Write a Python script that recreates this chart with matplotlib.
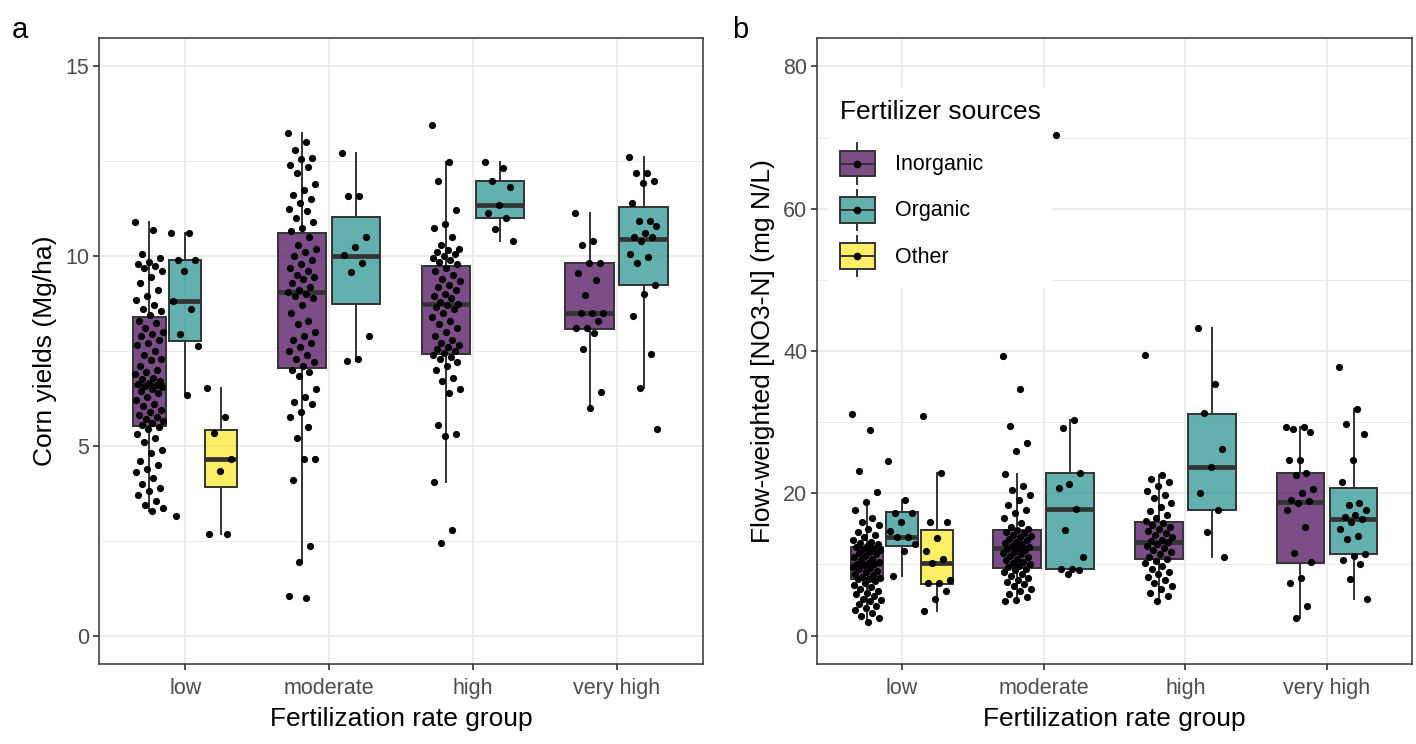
import numpy as np
import matplotlib
matplotlib.use("Agg")
import matplotlib.pyplot as plt
from matplotlib.legend_handler import HandlerBase
from matplotlib.lines import Line2D
from matplotlib.patches import Rectangle
from matplotlib.colors import to_rgba

plt.rcParams["font.family"] = ["Liberation Sans", "DejaVu Sans"]

categories = ["low", "moderate", "high", "very high"]
sources = ["Inorganic", "Organic", "Other"]
source_colours = ["#440154", "#21908C", "#FDE725"]

# --- panel a: corn yields (Mg/ha) ---------------------------------------
yield_low_inorganic = [
    10.9, 10.7, 10.05, 9.95, 9.85, 9.8, 9.75, 9.7, 9.6, 9.45, 9.3, 9.1, 8.95,
    8.85, 8.7, 8.6, 8.55, 8.45, 8.3, 8.25, 8.1, 8.0, 7.95, 7.9, 7.8, 7.7, 7.65,
    7.5, 7.4, 7.3, 7.25, 7.1, 7.0, 6.95, 6.9, 6.8, 6.75, 6.7, 6.65, 6.62, 6.6,
    6.58, 6.55, 6.5, 6.45, 6.4, 6.3, 6.2, 6.1, 6.05, 5.95, 5.9, 5.8, 5.75, 5.7,
    5.65, 5.6, 5.55, 5.5, 5.45, 5.3, 5.2, 5.1, 4.9, 4.8, 4.6, 4.5, 4.4, 4.3,
    4.15, 4.0, 3.9, 3.8, 3.7, 3.55, 3.45, 3.35, 3.29,
]
yield_low_organic = [10.62, 10.62, 9.9, 9.9, 9.6, 8.82, 8.6, 7.94, 7.62, 6.34, 3.15]
yield_low_other = [6.53, 5.75, 5.35, 4.65, 4.33, 2.67, 2.67]
yield_moderate_inorganic = [
    13.24, 13.0, 12.8, 12.6, 12.55, 12.4, 12.35, 12.2, 11.9, 11.75, 11.6, 11.5,
    11.4, 11.25, 11.2, 11.0, 10.9, 10.75, 10.65, 10.5, 10.3, 10.2, 10.1, 10.0,
    9.9, 9.8, 9.7, 9.6, 9.5, 9.45, 9.4, 9.3, 9.2, 9.1, 9.05, 9.0, 8.95, 8.9,
    8.7, 8.5, 8.3, 8.2, 8.0, 7.9, 7.8, 7.7, 7.6, 7.5, 7.4, 7.3, 7.2, 7.1, 7.0,
    6.95, 6.85, 6.5, 6.3, 6.15, 6.1, 5.9, 5.75, 5.5, 5.2, 4.65, 4.65, 4.1,
    2.35, 1.95, 1.04, 0.98,
]
yield_moderate_organic = [12.73, 11.58, 11.58, 10.5, 10.24, 10.03, 9.82, 9.58, 7.89, 7.3, 7.23]
yield_high_inorganic = [
    13.46, 12.47, 11.99, 11.21, 10.85, 10.75, 10.5, 10.3, 10.2, 10.15, 10.1,
    10.05, 10.0, 9.95, 9.9, 9.85, 9.8, 9.7, 9.6, 9.5, 9.4, 9.35, 9.25, 9.2,
    9.1, 9.0, 8.95, 8.9, 8.8, 8.75, 8.7, 8.65, 8.6, 8.5, 8.4, 8.3, 8.2, 8.1,
    8.0, 7.9, 7.8, 7.7, 7.65, 7.6, 7.55, 7.5, 7.45, 7.4, 7.35, 7.3, 7.2, 7.1,
    7.0, 6.8, 6.7, 6.5, 6.4, 5.55, 5.3, 5.25, 4.04, 2.77, 2.45,
]
yield_high_organic = [12.47, 12.33, 11.98, 11.82, 11.35, 11.13, 11.0, 10.71, 10.39]
yield_veryhigh_inorganic = [
    11.14, 10.41, 10.3, 9.82, 9.82, 9.55, 9.37, 8.98, 8.5, 8.5, 8.5, 8.3, 8.1,
    8.1, 7.98, 7.55, 6.43, 5.99,
]
yield_veryhigh_organic = [
    12.62, 12.2, 12.2, 11.98, 11.93, 11.4, 10.92, 10.92, 10.8, 10.61, 10.5,
    10.5, 10.39, 10.05, 9.98, 9.82, 9.23, 9.0, 8.43, 7.41, 6.52, 5.45,
]

# box summaries: lower whisker, Q1, median, Q3, upper whisker
yield_box_low_inorganic = [3.29, 5.53, 6.60, 8.40, 10.90]
yield_box_low_organic = [6.34, 7.76, 8.82, 9.89, 10.62]
yield_box_low_other = [2.67, 3.91, 4.65, 5.43, 6.53]
yield_box_moderate_inorganic = [1.95, 7.06, 9.05, 10.62, 13.24]
yield_box_moderate_organic = [7.23, 8.73, 10.00, 11.02, 12.73]
yield_box_high_inorganic = [4.04, 7.43, 8.73, 9.74, 12.47]
yield_box_high_organic = [10.39, 11.00, 11.35, 11.98, 12.47]
yield_box_veryhigh_inorganic = [5.99, 8.08, 8.50, 9.82, 11.14]
yield_box_veryhigh_organic = [6.52, 9.23, 10.44, 11.29, 12.62]

# --- panel b: flow-weighted nitrate (mg N/L) -----------------------------
no3_low_inorganic = [
    31.1, 28.9, 23.2, 20.2, 18.8, 17.6, 16.5, 16.0, 15.5, 15.0, 14.6, 14.2,
    13.8, 13.5, 13.2, 13.0, 12.8, 12.6, 12.5, 12.3, 12.1, 12.0, 11.8, 11.6,
    11.4, 11.2, 11.0, 10.8, 10.6, 10.4, 10.2, 10.1, 10.0, 9.9, 9.7, 9.5, 9.3,
    9.1, 8.9, 8.7, 8.5, 8.3, 8.1, 8.0, 7.9, 7.7, 7.4, 7.1, 6.8, 6.5, 6.2, 6.0,
    5.8, 5.5, 5.2, 5.0, 4.8, 4.5, 4.2, 3.9, 3.6, 3.2, 2.8, 2.4, 1.9,
]
no3_low_organic = [24.5, 19.0, 17.2, 17.2, 16.0, 14.7, 13.85, 13.85, 12.9, 11.9, 8.36]
no3_low_other = [30.8, 22.9, 15.9, 15.9, 13.7, 11.9, 10.8, 10.2, 7.84, 7.37, 7.37, 6.2, 5.16, 3.5]
no3_moderate_inorganic = [
    39.3, 34.6, 29.5, 27.1, 26.0, 22.7, 21.0, 20.4, 19.8, 19.0, 18.3, 17.6,
    17.2, 16.5, 15.8, 15.3, 15.0, 14.8, 14.6, 14.4, 14.2, 14.0, 13.8, 13.6,
    13.4, 13.2, 13.0, 12.8, 12.6, 12.4, 12.3, 12.2, 12.0, 11.8, 11.6, 11.4,
    11.2, 11.0, 10.8, 10.6, 10.4, 10.2, 10.0, 9.8, 9.6, 9.4, 9.2, 9.0, 8.7,
    8.4, 8.1, 7.8, 7.5, 7.2, 6.9, 6.6, 6.2, 5.8, 5.4, 5.0, 4.8,
]
no3_moderate_organic = [70.3, 30.3, 29.2, 22.9, 21.3, 20.8, 17.8, 14.8, 11.1, 9.4, 9.4, 9.2, 8.7]
no3_high_inorganic = [
    39.4, 22.5, 22.0, 21.6, 21.0, 20.3, 19.8, 19.3, 18.7, 18.0, 17.5, 17.0,
    16.5, 16.1, 15.8, 15.5, 15.2, 15.0, 14.7, 14.4, 14.1, 13.8, 13.5, 13.3,
    13.1, 12.9, 12.6, 12.3, 12.0, 11.7, 11.4, 11.1, 10.8, 10.5, 10.2, 9.8,
    9.4, 9.0, 8.6, 8.2, 7.8, 7.4, 7.0, 6.6, 6.0, 5.5, 4.9,
]
no3_high_organic = [43.2, 35.4, 31.3, 26.2, 23.7, 20.1, 17.7, 14.6, 11.0]
no3_veryhigh_inorganic = [
    29.3, 29.3, 29.0, 28.6, 24.7, 24.7, 22.9, 22.5, 20.6, 20.1, 19.1, 18.9,
    18.6, 17.7, 15.3, 11.6, 10.3, 8.1, 7.4, 4.2, 2.4,
]
no3_veryhigh_organic = [
    37.8, 31.9, 29.7, 28.4, 24.7, 21.6, 18.6, 18.3, 17.6, 17.0, 16.6, 16.4,
    16.0, 15.0, 14.0, 13.6, 11.5, 11.2, 10.6, 10.0, 8.0, 5.2,
]

no3_box_low_inorganic = [1.9, 7.9, 10.0, 12.4, 18.8]
no3_box_low_organic = [8.36, 12.6, 13.85, 17.4, 19.0]
no3_box_low_other = [3.5, 7.2, 10.2, 14.8, 22.9]
no3_box_moderate_inorganic = [4.8, 9.5, 12.3, 14.9, 22.7]
no3_box_moderate_organic = [9.2, 9.4, 17.8, 22.9, 30.3]
no3_box_high_inorganic = [4.9, 10.7, 13.1, 15.9, 22.5]
no3_box_high_organic = [11.0, 17.6, 23.7, 31.2, 43.2]
no3_box_veryhigh_inorganic = [2.4, 10.2, 18.8, 22.9, 29.3]
no3_box_veryhigh_organic = [5.2, 11.5, 16.4, 20.8, 31.9]

yield_groups = [
    ("low", "Inorganic", yield_low_inorganic, yield_box_low_inorganic),
    ("low", "Organic", yield_low_organic, yield_box_low_organic),
    ("low", "Other", yield_low_other, yield_box_low_other),
    ("moderate", "Inorganic", yield_moderate_inorganic, yield_box_moderate_inorganic),
    ("moderate", "Organic", yield_moderate_organic, yield_box_moderate_organic),
    ("high", "Inorganic", yield_high_inorganic, yield_box_high_inorganic),
    ("high", "Organic", yield_high_organic, yield_box_high_organic),
    ("very high", "Inorganic", yield_veryhigh_inorganic, yield_box_veryhigh_inorganic),
    ("very high", "Organic", yield_veryhigh_organic, yield_box_veryhigh_organic),
]
no3_groups = [
    ("low", "Inorganic", no3_low_inorganic, no3_box_low_inorganic),
    ("low", "Organic", no3_low_organic, no3_box_low_organic),
    ("low", "Other", no3_low_other, no3_box_low_other),
    ("moderate", "Inorganic", no3_moderate_inorganic, no3_box_moderate_inorganic),
    ("moderate", "Organic", no3_moderate_organic, no3_box_moderate_organic),
    ("high", "Inorganic", no3_high_inorganic, no3_box_high_inorganic),
    ("high", "Organic", no3_high_organic, no3_box_high_organic),
    ("very high", "Inorganic", no3_veryhigh_inorganic, no3_box_veryhigh_inorganic),
    ("very high", "Organic", no3_veryhigh_organic, no3_box_veryhigh_organic),
]

EDGE = "#333333"
GRID = "#EBEBEB"
FILL_ALPHA = 0.7
JITTER = 0.2  # total horizontal spread of the points, in category units


def fill_for(source):
    return to_rgba(source_colours[sources.index(source)], FILL_ALPHA)


def jitter(n, spread=JITTER):
    # evenly scattered offsets (golden-ratio sequence) so the points don't stack
    return ((np.arange(n) * 0.6180339887) % 1.0 - 0.5) * spread


def draw_panel(ax, groups):
    for cat_index, cat in enumerate(categories):
        members = [g for g in groups if g[0] == cat]
        slot = 0.75 / len(members)
        for k, (_, source, points, box) in enumerate(members):
            centre = cat_index + 1 + (k - (len(members) - 1) / 2) * slot
            lo, q1, med, q3, hi = box
            ax.bxp(
                [dict(whislo=lo, q1=q1, med=med, q3=q3, whishi=hi)],
                positions=[centre], widths=slot * 0.9, patch_artist=True,
                showfliers=False, showcaps=False, manage_ticks=False,
                boxprops=dict(facecolor=fill_for(source), edgecolor=EDGE, linewidth=1.4),
                whiskerprops=dict(color=EDGE, linewidth=1.4),
                medianprops=dict(color=EDGE, linewidth=3.4, solid_capstyle="butt"),
                zorder=2,
            )
            ax.scatter(centre + jitter(len(points)), points,
                       s=27, color="black", linewidths=0, zorder=3)


def style_axes(ax, major, minor, lims):
    ax.set_xlim(0.4, 4.6)
    ax.set_ylim(*lims)
    ax.set_xticks(range(1, len(categories) + 1))
    ax.set_xticklabels(categories)
    ax.set_yticks(major)
    ax.set_yticks(minor, minor=True)
    ax.set_axisbelow(True)
    ax.grid(which="major", color=GRID, linewidth=1.3)
    ax.grid(which="minor", axis="y", color=GRID, linewidth=0.7)
    ax.tick_params(which="major", length=4, width=1.2, color=EDGE,
                   labelcolor="#4D4D4D", labelsize=15.5, pad=3)
    ax.tick_params(axis="x", which="major", pad=6)
    ax.tick_params(which="minor", length=0)
    for spine in ax.spines.values():
        spine.set_color(EDGE)
        spine.set_linewidth(1.1)
    ax.set_xlabel("Fertilization rate group", fontsize=19, labelpad=6)


class BoxKey(HandlerBase):
    def create_artists(self, legend, orig_handle, xdescent, ydescent, width,
                       height, fontsize, trans):
        colour = orig_handle.get_facecolor()
        x0, y0 = -xdescent, -ydescent
        box_h = height * 0.64
        by = y0 + (height - box_h) / 2
        cx = x0 + width / 2
        cy = y0 + height / 2
        return [
            Line2D([cx, cx], [y0, by], color=EDGE, lw=1.4, transform=trans),
            Line2D([cx, cx], [by + box_h, y0 + height], color=EDGE, lw=1.4, transform=trans),
            Rectangle((x0, by), width, box_h, facecolor=colour, edgecolor=EDGE,
                      lw=1.4, transform=trans),
            Line2D([x0, x0 + width], [cy, cy], color=EDGE, lw=1.4, transform=trans),
            Line2D([cx], [cy], marker="o", markersize=4.5, color="black",
                   linestyle="none", transform=trans),
        ]


fig = plt.figure(figsize=(14.16, 7.44), dpi=100)
W, H = 1416, 744
ax_a = fig.add_axes([99 / W, (H - 664) / H, (703 - 99) / W, (664 - 38) / H])
ax_b = fig.add_axes([817 / W, (H - 664) / H, (1412 - 817) / W, (664 - 38) / H])

draw_panel(ax_a, yield_groups)
style_axes(ax_a, [0, 5, 10, 15], [2.5, 7.5, 12.5], (-0.75, 15.75))
ax_a.set_ylabel("Corn yields (Mg/ha)", fontsize=19, labelpad=6)

draw_panel(ax_b, no3_groups)
style_axes(ax_b, [0, 20, 40, 60, 80], [10, 30, 50, 70], (-4, 84))
ax_b.set_ylabel("Flow-weighted [NO3-N] (mg N/L)", fontsize=19, labelpad=6)

handles = [Rectangle((0, 0), 1, 1, facecolor=fill_for(s)) for s in sources]
leg = ax_b.legend(
    handles, sources, handler_map={Rectangle: BoxKey()},
    title="Fertilizer sources", title_fontsize=19, fontsize=15.5,
    loc="upper left", bbox_to_anchor=(0.0, 0.937), frameon=True,
    facecolor="white", edgecolor="none", framealpha=1.0, fancybox=False,
    handlelength=1.65, handleheight=2.5, handletextpad=0.9, labelspacing=0.28,
    borderpad=0.55, alignment="left",
)
# a little more room between the legend title and its first entry
leg._legend_box.sep = 14
# above grid and boxes, below the jittered points
leg.set_zorder(2.5)

fig.text(12 / W, 1 - 30 / H, "a", fontsize=21, va="center", ha="left")
fig.text(732 / W, 1 - 30 / H, "b", fontsize=21, va="center", ha="left")

fig.savefig("out.png", dpi=100, facecolor="white")
